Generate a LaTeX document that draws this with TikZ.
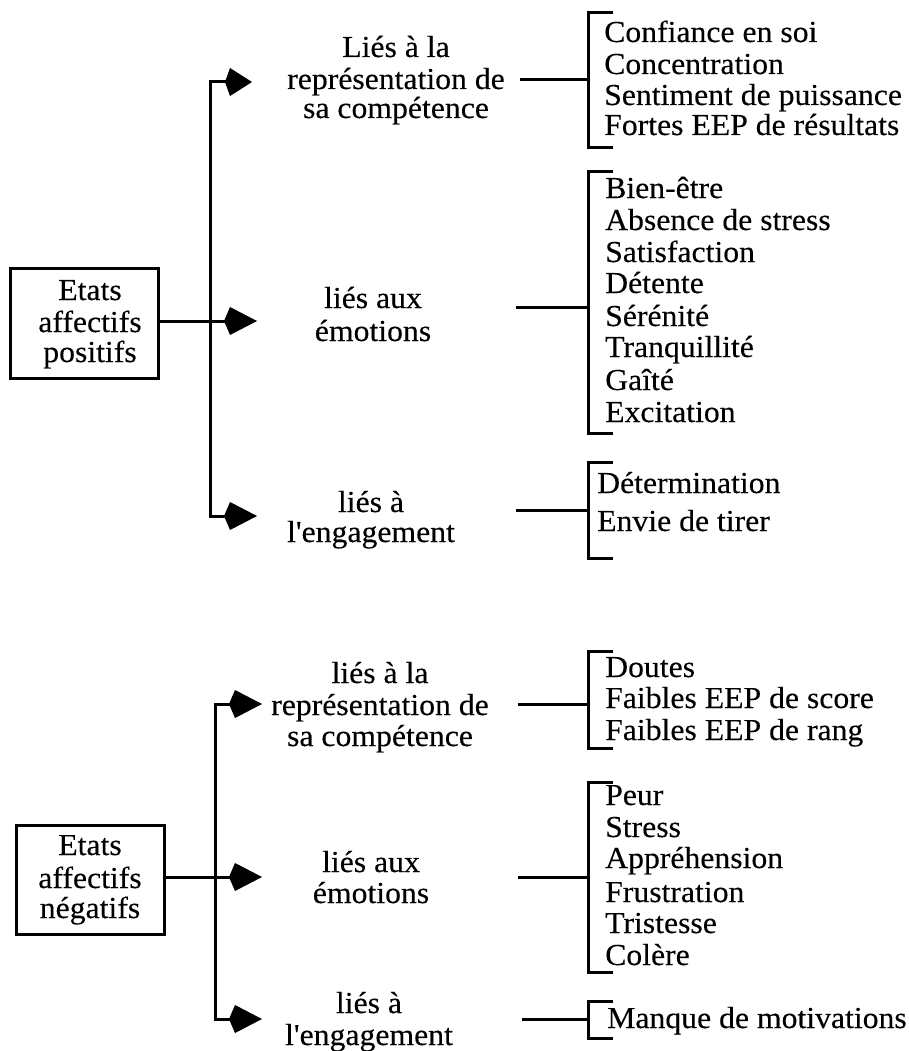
\documentclass[tikz,border=0pt]{standalone}
\usepackage{fontspec}
\setmainfont{Liberation Serif}[FakeStretch=1.04, FakeBold=0.25, Ligatures=TeXOff]
\usetikzlibrary{arrows.meta}
\newcommand\mybrk[5]{%
  \coordinate (#1tt) at (613,#2);
  \coordinate (#1t) at (588,#2);
  \coordinate (#1b) at (588,#3);
  \coordinate (#1bb) at (613,#3);
  \coordinate (#1m) at (588,#4);
  \coordinate (#1s) at (#5,#4);
  \draw[ln] (#1tt) -- (#1t) -- (#1b) -- (#1bb);
  \draw[ln] (#1s) -- (#1m);}
\begin{document}
\begin{tikzpicture}[x=1pt,y=-1pt,
  txt/.style={inner sep=0pt, font=\fontsize{30.5}{31.5}\selectfont},
  ln/.style={line width=3pt, line join=miter},
  boxst/.style={draw, line width=3pt, inner sep=0pt, minimum width=148pt},
  arr/.style={ln, -{Kite[length=33pt,width=28pt,inset=6pt]}}]
\useasboundingbox (0,0) rectangle (909,1051);

% ================= POSITIVE =================
\node[boxst, minimum height=110pt] (pb) at (84,323) {};
\foreach \t/\y [count=\i] in {Etats/300, affectifs/332, positifs/362}
  \node[txt, anchor=base] (pbt\i) at (90,\y) {\t};

\coordinate (pa1) at (252,82);
\coordinate (pa2) at (257,321);
\coordinate (pa3) at (257,516);
\coordinate (ps1) at (210,82);
\coordinate (ps3) at (210,516);
\draw[ln, {Kite[length=27pt,width=28pt,inset=5pt]}-{Kite[length=33pt,width=28pt,inset=6pt]}]
  (pa1) -- (ps1) -- (ps3) -- (pa3);
\draw[arr] (pb.east |- pa2) -- (pa2);

\foreach \t/\y [count=\i] in {Liés à la/57, représentation de/89, sa compétence/118}
  \node[txt, anchor=base] (pl1\i) at (396,\y) {\t};
\foreach \t/\y [count=\i] in {liés aux/308, émotions/341}
  \node[txt, anchor=base] (pl2\i) at (373,\y) {\t};
\foreach \t/\y [count=\i] in {liés à/512, l'engagement/542}
  \node[txt, anchor=base] (pl3\i) at (371,\y) {\t};

\mybrk{pk1}{13}{148}{80}{520}
\mybrk{pk2}{172}{433}{307}{516}
\mybrk{pk3}{462}{558}{510}{516}

\foreach \t/\y [count=\i] in {Confiance en soi/42, Concentration/74, Sentiment de puissance/105, Fortes EEP de résultats/135}
  \node[txt, anchor=base west] (pr1\i) at (604,\y) {\t};
\foreach \t/\y [count=\i] in {Bien-être/198, Absence de stress/230, Satisfaction/262, Détente/293, Sérénité/326, Tranquillité/357, Gaîté/390, Excitation/422}
  \node[txt, anchor=base west] (pr2\i) at (605,\y) {\t};
\foreach \t/\y [count=\i] in {Détermination/493, Envie de tirer/531}
  \node[txt, anchor=base west] (pr3\i) at (597,\y) {\t};

% ================= NEGATIVE =================
\node[boxst, minimum height=109pt] (nb) at (90,879.5) {};
\foreach \t/\y [count=\i] in {Etats/855, affectifs/888, négatifs/918}
  \node[txt, anchor=base] (nbt\i) at (90,\y) {\t};

\coordinate (na1) at (262,704);
\coordinate (na2) at (262,877);
\coordinate (na3) at (262,1019);
\coordinate (ns1) at (215,704);
\coordinate (ns3) at (215,1019);
\draw[ln, {Kite[length=33pt,width=28pt,inset=6pt]}-{Kite[length=33pt,width=28pt,inset=6pt]}]
  (na1) -- (ns1) -- (ns3) -- (na3);
\draw[arr] (nb.east |- na2) -- (na2);

\foreach \t/\y [count=\i] in {liés à la/683, représentation de/715, sa compétence/746}
  \node[txt, anchor=base] (nl1\i) at (380,\y) {\t};
\foreach \t/\y [count=\i] in {liés aux/872, émotions/903}
  \node[txt, anchor=base] (nl2\i) at (371,\y) {\t};
\foreach \t/\y [count=\i] in {liés à/1013, l'engagement/1045}
  \node[txt, anchor=base] (nl3\i) at (369,\y) {\t};

\mybrk{nk1}{651}{748}{704}{518}
\mybrk{nk2}{782}{972}{877}{518}
\mybrk{nk3}{1001}{1038}{1019}{522}

\foreach \t/\y [count=\i] in {Doutes/677, Faibles EEP de score/708, Faibles EEP de rang/740}
  \node[txt, anchor=base west] (nr1\i) at (605,\y) {\t};
\foreach \t/\y [count=\i] in {Peur/805, Stress/837, Appréhension/868, Frustration/902, Tristesse/933, Colère/965}
  \node[txt, anchor=base west] (nr2\i) at (605,\y) {\t};
\foreach \t/\y [count=\i] in {Manque de motivations/1028}
  \node[txt, anchor=base west] (nr3\i) at (607,\y) {\t};
\end{tikzpicture}
\end{document}
